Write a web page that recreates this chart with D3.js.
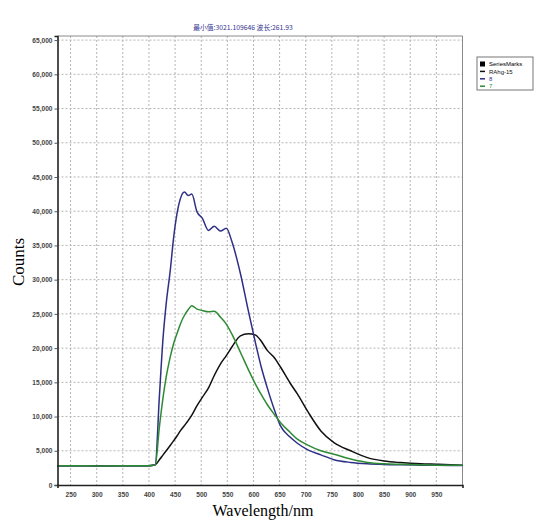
<!DOCTYPE html>
<html>
<head>
<meta charset="utf-8">
<script src="https://cdn.jsdelivr.net/npm/d3@7"></script>
<style>
  body { margin: 0; background: #fff; }
  svg { display: block; }
</style>
</head>
<body>
<svg id="chart" width="537" height="521"></svg>
<script>
// spectrum values (nm -> counts)
var wavelengths = [225, 250, 300, 350, 400, 412, 420, 427, 433, 441, 447, 454, 460, 468, 475, 482,
    492, 502, 514, 525, 537, 548, 559, 575, 590, 604, 615, 626, 640, 652, 670, 684,
    705, 729, 754, 786, 818, 850, 882, 920, 950, 1000];

var series8 = [2800, 2820, 2790, 2800, 2830, 2950, 13000, 21500, 26500, 31500, 36000, 39800, 41800, 42800, 42300, 42500,
    39900, 39000, 37200, 37800, 37100, 37500, 35500, 30900, 25500, 20700, 17200, 14300, 11000, 8600, 7000, 6100,
    5100, 4400, 3700, 3300, 3100, 3000, 2950, 2900, 2880, 2850];

var series7 = [2800, 2810, 2790, 2800, 2820, 2950, 8500, 12800, 15800, 18800, 20600, 22200, 23500, 24800, 25600, 26200,
    25700, 25500, 25300, 25400, 24500, 23500, 22000, 19400, 16900, 14700, 13200, 11800, 10300, 9100, 7700, 6700,
    5800, 5000, 4500, 3800, 3300, 3100, 3030, 2950, 2900, 2870];

var seriesRAhg = [2800, 2800, 2800, 2810, 2820, 2950, 3700, 4400, 5000, 5800, 6440, 7200, 7900, 8700, 9400, 10200,
    11600, 12800, 14200, 16000, 17700, 18900, 20200, 21800, 22100, 21900, 21000, 19700, 18600, 17200, 14900, 13300,
    10600, 7900, 6200, 5000, 4000, 3500, 3270, 3100, 3030, 2900];

var xTickValues = [250, 300, 350, 400, 450, 500, 550, 600, 650, 700, 750, 800, 850, 900, 950];
var yTickValues = [0, 5000, 10000, 15000, 20000, 25000, 30000, 35000, 40000, 45000, 50000, 55000, 60000, 65000];

var legendNames = ['SeriesMarks', 'RAhg-15', '8', '7'];
var legendColors = ['#000000', '#111111', '#2f2f86', '#2e8b34'];

var svg = d3.select('#chart');

var plot = {l: 57.5, r: 462.5, t: 36, b: 485};

var x = d3.scaleLinear().domain([225, 1000]).range([plot.l, plot.r]);
var y = d3.scaleLinear().domain([0, 65600]).range([plot.b, plot.t]);

// grid
var grid = svg.append('g');
grid.selectAll('.vgrid')
    .data(xTickValues)
    .enter().append('line')
    .attr('x1', function(d) { return x(d); })
    .attr('x2', function(d) { return x(d); })
    .attr('y1', plot.t)
    .attr('y2', plot.b)
    .attr('stroke', '#b4b4b4')
    .attr('stroke-dasharray', '2,2');
grid.selectAll('.hgrid')
    .data(yTickValues.slice(1))
    .enter().append('line')
    .attr('x1', plot.l)
    .attr('x2', plot.r)
    .attr('y1', function(d) { return y(d); })
    .attr('y2', function(d) { return y(d); })
    .attr('stroke', '#b4b4b4')
    .attr('stroke-dasharray', '2,2');

// top / right frame
svg.append('path')
    .attr('d', 'M' + plot.l + ',' + plot.t + 'H' + plot.r + 'V' + plot.b)
    .attr('fill', 'none')
    .attr('stroke', '#8a8a8a')
    .attr('stroke-width', 1);

// lines
var line = d3.line()
    .x(function(d) { return x(d[0]); })
    .y(function(d) { return y(d[1]); })
    .curve(d3.curveMonotoneX);

function pairs(vals) {
    return wavelengths.map(function(w, i) { return [w, vals[i]]; });
}

svg.append('path').datum(pairs(seriesRAhg))
    .attr('d', line).attr('fill', 'none')
    .attr('stroke', legendColors[1]).attr('stroke-width', 1.5);
svg.append('path').datum(pairs(series8))
    .attr('d', line).attr('fill', 'none')
    .attr('stroke', legendColors[2]).attr('stroke-width', 1.5);
svg.append('path').datum(pairs(series7))
    .attr('d', line).attr('fill', 'none')
    .attr('stroke', legendColors[3]).attr('stroke-width', 1.5);

// axes
var yAxis = d3.axisLeft(y).tickValues(yTickValues).tickSize(3).tickPadding(2)
    .tickFormat(d3.format(','));
var xAxis = d3.axisBottom(x).tickValues(xTickValues).tickSize(3).tickPadding(4);

var yG = svg.append('g')
    .attr('transform', 'translate(' + plot.l + ',0)')
    .call(yAxis);
var xG = svg.append('g')
    .attr('transform', 'translate(0,' + plot.b + ')')
    .call(xAxis);

[yG, xG].forEach(function(g) {
    g.select('.domain').attr('stroke', '#222').attr('stroke-width', 1.6);
    g.selectAll('.tick line').attr('stroke', '#555');
    g.selectAll('.tick text')
        .attr('fill', '#444')
        .style('font-family', '"Liberation Sans", Arial, sans-serif')
        .style('font-weight', 'bold')
        .style('font-size', '6.6px');
});
xG.selectAll('.tick line').attr('stroke', 'none');

// title
svg.append('text')
    .attr('x', 243)
    .attr('y', 30)
    .attr('text-anchor', 'middle')
    .attr('fill', '#34348f')
    .style('font-family', '"Noto Sans CJK SC", "Liberation Sans", sans-serif')
    .style('font-size', '6.8px')
    .text('最小值:3021.109646  波长:261.93');

// axis labels
svg.append('text')
    .attr('x', 263)
    .attr('y', 516)
    .attr('text-anchor', 'middle')
    .style('font-family', '"Liberation Serif", "Times New Roman", serif')
    .style('font-size', '16px')
    .text('Wavelength/nm');

svg.append('text')
    .attr('transform', 'translate(24,262) rotate(-90)')
    .attr('text-anchor', 'middle')
    .style('font-family', '"Liberation Serif", "Times New Roman", serif')
    .style('font-size', '17px')
    .text('Counts');

// legend
var legend = svg.append('g').attr('transform', 'translate(477,57)');
legend.append('rect')
    .attr('width', 56).attr('height', 33)
    .attr('fill', '#fff')
    .attr('stroke', '#777');
var item = legend.selectAll('.item')
    .data(legendNames)
    .enter().append('g')
    .attr('transform', function(d, i) { return 'translate(0,' + (4 + i * 7.4) + ')'; });
item.each(function(d, i) {
    var g = d3.select(this);
    if (i === 0) {
        g.append('rect').attr('x', 3).attr('y', 0.5).attr('width', 5).attr('height', 5)
            .attr('fill', legendColors[i]);
    } else {
        g.append('line').attr('x1', 3).attr('x2', 8).attr('y1', 3).attr('y2', 3)
            .attr('stroke', legendColors[i]).attr('stroke-width', 1.5);
    }
    g.append('text')
        .attr('x', 12).attr('y', 5.2)
        .attr('fill', legendColors[i])
        .style('font-family', '"Liberation Sans", Arial, sans-serif')
        .style('font-size', '6px')
        .text(d);
});
</script>
</body>
</html>
